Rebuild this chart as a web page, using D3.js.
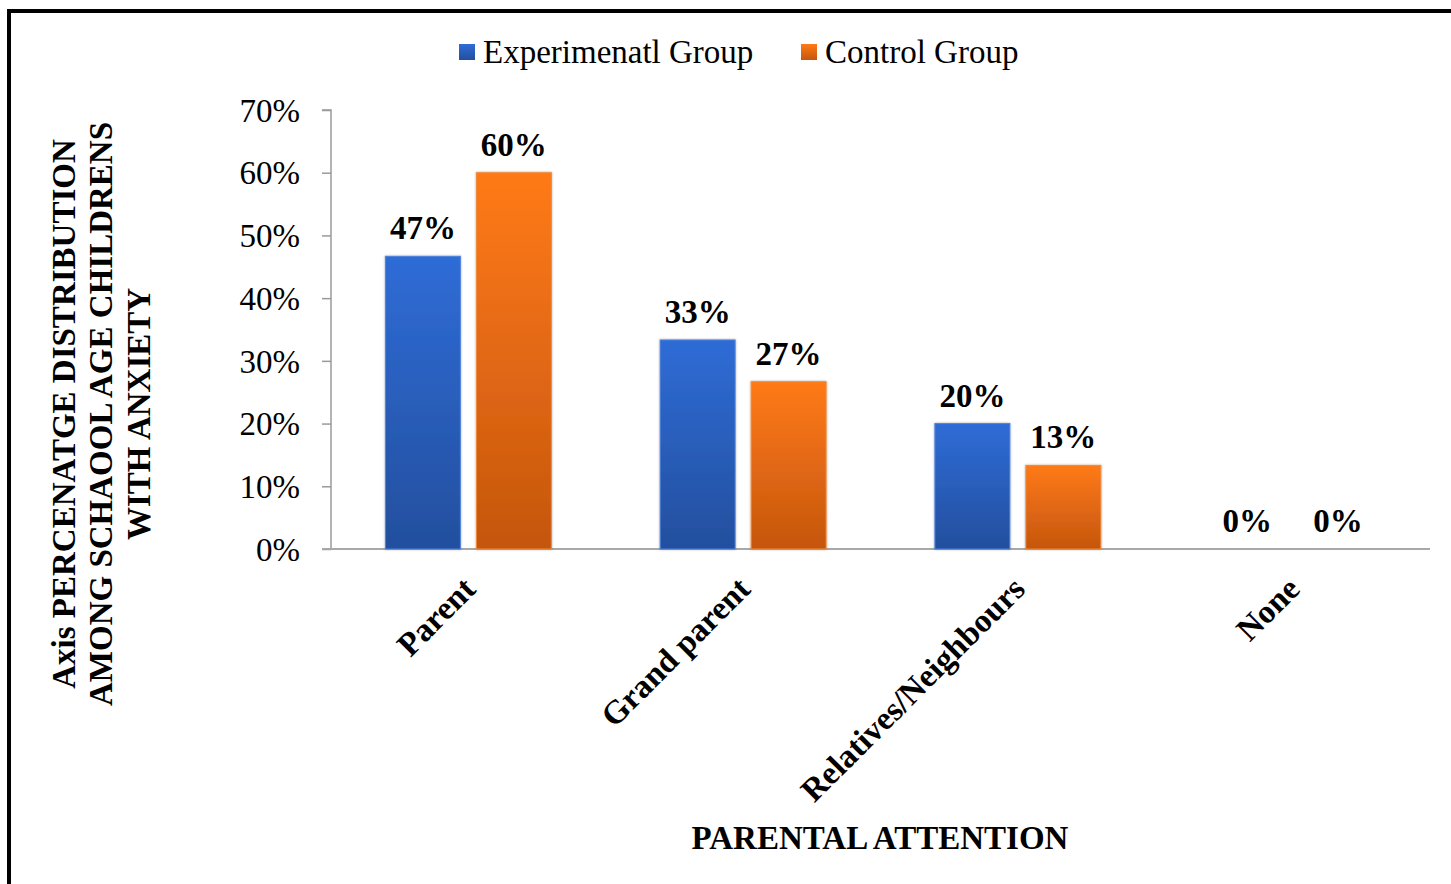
<!DOCTYPE html>
<html>
<head>
<meta charset="utf-8">
<script src="https://cdn.jsdelivr.net/npm/d3@7"></script>
<style>
  html, body { margin: 0; padding: 0; background: #fff; }
  svg { display: block; }
  text { font-family: "Liberation Serif", "Times New Roman", serif; fill: #000; }
</style>
</head>
<body>
<svg id="chart" width="1451" height="884"></svg>
<script>
// Parental attention categories and the share of children in each group
const categories = ["Parent", "Grand parent", "Relatives/Neighbours", "None"];
const seriesNames = ["Experimenatl Group", "Control Group"];
const experimental = [0.4667, 0.3333, 0.2000, 0.0];
const control = [0.6000, 0.2667, 0.1333, 0.0];
const yTicks = [0, 0.1, 0.2, 0.3, 0.4, 0.5, 0.6, 0.7];
const yTitleLines = ["Axis PERCENATGE DISTRIBUTION", "AMONG SCHAOOL AGE CHILDRENS", "WITH ANXIETY"];
const xTitle = "PARENTAL ATTENTION";

const svg = d3.select("#chart");
const W = 1451, H = 884;
const FS = "33px";

// frame around the chart
svg.append("rect")
  .attr("x", 9).attr("y", 11)
  .attr("width", W + 10).attr("height", H + 10)
  .attr("fill", "none").attr("stroke", "#000").attr("stroke-width", 4);

const plot = { left: 331, right: 1430, top: 110, bottom: 549 };

const x0 = d3.scaleBand().domain(categories).range([plot.left, plot.right]).padding(0);
const x1 = d3.scaleBand().domain(seriesNames).range([0, x0.bandwidth()])
  .paddingInner(0.176).paddingOuter(0.598);
const y = d3.scaleLinear().domain([0, 0.7]).range([plot.bottom, plot.top]);

// gradients for the bar fills
const defs = svg.append("defs");
const grads = [
  { id: "gBlue", top: "#2f6cd6", bottom: "#234f9e" },
  { id: "gOrange", top: "#ff7a17", bottom: "#c5560f" }
];
grads.forEach(g => {
  const lg = defs.append("linearGradient").attr("id", g.id)
    .attr("x1", 0).attr("y1", 0).attr("x2", 0).attr("y2", 1);
  lg.append("stop").attr("offset", "0%").attr("stop-color", g.top);
  lg.append("stop").attr("offset", "100%").attr("stop-color", g.bottom);
});
const shadow = defs.append("filter").attr("id", "soft")
  .attr("x", "-10%").attr("y", "-10%").attr("width", "120%").attr("height", "120%");
shadow.append("feDropShadow").attr("dx", 0).attr("dy", 0).attr("stdDeviation", 1.2)
  .attr("flood-color", "#000").attr("flood-opacity", 0.35);

const fills = ["url(#gBlue)", "url(#gOrange)"];
const strokes = ["#4f82dc", "#f08a3a"];
const seriesValues = [experimental, control];

// y axis
const yAxis = d3.axisLeft(y).tickValues(yTicks).tickFormat(d3.format(".0%"))
  .tickSize(9).tickPadding(22);
const gy = svg.append("g").attr("transform", `translate(${plot.left},0)`).call(yAxis);
gy.select(".domain").attr("stroke", "#9a9a9a").attr("stroke-width", 1.5)
  .attr("d", `M-9,${plot.top}H0V${plot.bottom}`);
gy.selectAll(".tick line").attr("stroke", "#9a9a9a").attr("stroke-width", 1.5);
gy.selectAll(".tick text")
  .style("font-family", '"Liberation Serif", serif')
  .style("font-size", FS).attr("fill", "#000").attr("dy", "0.34em");

// x axis baseline
svg.append("line")
  .attr("x1", plot.left - 9).attr("x2", plot.right)
  .attr("y1", y(0)).attr("y2", y(0))
  .attr("stroke", "#a8a8a8").attr("stroke-width", 2);

// bars and value labels
const groups = svg.append("g").selectAll("g").data(categories).join("g")
  .attr("transform", d => `translate(${x0(d)},0)`);

seriesNames.forEach((s, si) => {
  groups.append("rect")
    .attr("x", x1(s))
    .attr("y", (d, i) => y(seriesValues[si][i]))
    .attr("width", x1.bandwidth())
    .attr("height", (d, i) => y(0) - y(seriesValues[si][i]))
    .attr("fill", fills[si])
    .attr("stroke", strokes[si]).attr("stroke-width", 1)
    .attr("filter", "url(#soft)")
    .style("display", (d, i) => seriesValues[si][i] > 0 ? null : "none");

  groups.append("text")
    .attr("x", x1(s) + x1.bandwidth() / 2)
    .attr("y", (d, i) => y(seriesValues[si][i]) - 17)
    .attr("text-anchor", "middle")
    .style("font-size", FS).style("font-weight", "bold")
    .text((d, i) => d3.format(".0%")(seriesValues[si][i]));
});

// rotated category labels
svg.append("g").selectAll("text").data(categories).join("text")
  .attr("transform", d => `translate(${x0(d) + x0.bandwidth() / 2 + 9},${plot.bottom + 42}) rotate(-45)`)
  .attr("text-anchor", "end")
  .style("font-size", FS).style("font-weight", "bold")
  .text(d => d);

// x axis title
svg.append("text")
  .attr("x", 880).attr("y", 849)
  .attr("text-anchor", "middle")
  .style("font-size", FS).style("font-weight", "bold")
  .text(xTitle);

// y axis title (three lines)
const yt = svg.append("text")
  .attr("transform", "translate(100,414) rotate(-90)")
  .attr("text-anchor", "middle")
  .style("font-size", FS).style("font-weight", "bold");
yTitleLines.forEach((line, i) => {
  yt.append("tspan").attr("x", 0).attr("y", (i - 1) * 37.5 + 12).text(line);
});

// legend
const legend = svg.append("g").attr("transform", "translate(459,44)");
const legendX = [0, 342];
seriesNames.forEach((s, i) => {
  const g = legend.append("g").attr("transform", `translate(${legendX[i]},0)`);
  g.append("rect").attr("width", 16).attr("height", 16).attr("fill", fills[i]);
  g.append("text").attr("x", 24).attr("y", 19)
    .style("font-size", FS).text(s);
});
</script>
</body>
</html>
